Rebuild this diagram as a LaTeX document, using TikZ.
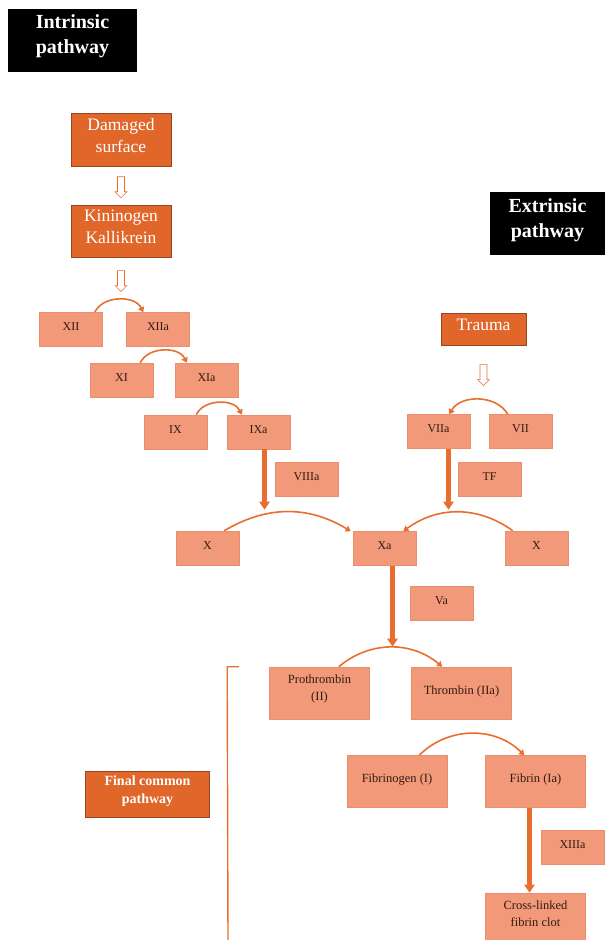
\documentclass[tikz,border=0pt]{standalone}
\usepackage{fontspec}
\setmainfont{Liberation Serif}
\usetikzlibrary{arrows.meta,shapes.arrows,calc}

\definecolor{facfill}{RGB}{241,153,121}
\definecolor{facedge}{RGB}{236,142,110}
\definecolor{darkfill}{RGB}{225,102,42}
\definecolor{darkedge}{RGB}{150,70,35}
\definecolor{arrowc}{RGB}{232,110,48}
\definecolor{factext}{RGB}{50,28,18}

\tikzset{
  fac/.style={draw=facedge, fill=facfill, text=factext, line width=0.6pt,
    font=\fontsize{12}{17}\selectfont, align=center, inner sep=0pt,
    minimum width=63pt, text height=18pt, text depth=16pt},
  bigfac/.style={fac, minimum width=100pt, font=\fontsize{12.5}{17}\selectfont,
    text height=27pt, text depth=25pt},
  twofac/.style={bigfac, text height=33.5pt, text depth=18.5pt},
  dark/.style={draw=darkedge, fill=darkfill, text=white, line width=0.6pt,
    font=\fontsize{17.5}{22}\selectfont, align=center, inner sep=0pt,
    minimum width=100pt, text height=39pt, text depth=14pt},
  title/.style={fill=black, text=white, align=center, inner sep=0pt,
    font=\bfseries\fontsize{20}{25}\selectfont, text height=44pt, text depth=19pt},
  hollow/.style={single arrow, draw=arrowc, fill=white, line width=0.6pt,
    minimum height=21pt, minimum width=0pt, inner sep=3.2pt,
    single arrow head extend=2.5pt, shape border rotate=270},
  flow/.style={draw=arrowc, line width=1.6pt, -{Triangle[length=5pt,width=6.5pt]}},
  thickarr/.style={draw=arrowc, line width=4.5pt, -{Triangle[length=8pt,width=10pt]}},
  bracket/.style={draw=arrowc, line width=1.4pt}
}

\begin{document}
\begin{tikzpicture}[x=1pt, y=1pt]
\useasboundingbox (0,0) rectangle (605,-940);

% Pathway titles
\node[title, minimum width=129pt] (intr) at (72.5,-40.5) {Intrinsic\\pathway};
\node[title, minimum width=116pt, text height=45pt, text depth=18pt] (extr) at (547.5,-223.5) {Extrinsic\\pathway};

% Intrinsic start
\node[dark] (dam) at (121,-139.5) {Damaged\\surface};
\node[dark, text height=38pt] (kin) at (121,-231) {Kininogen\\Kallikrein};
\node[hollow] (h1) at ($(dam.south)!0.5!(kin.north)$) {};
\node[hollow] (h2) at ([yshift=-22pt]kin.south) {};

% Intrinsic cascade
\node[fac] (xii) at (71,-329.5) {XII};
\node[fac] (xiia) at (158,-329.5) {XIIa};
\node[fac] (xi) at (121.5,-380) {XI};
\node[fac] (xia) at (206.5,-380) {XIa};
\node[fac] (ix) at (175.5,-432) {IX};
\node[fac] (ixa) at (258.5,-432) {IXa};
\node[fac] (viiia) at (306.5,-479.5) {VIIIa};

\draw[flow] ([xshift=-8pt]xii.north east) to[bend left=65] ([xshift=17pt]xiia.north west);
\draw[flow] ([xshift=-13pt]xi.north east) to[bend left=65] ([xshift=12pt]xia.north west);
\draw[flow] ([xshift=-11pt]ix.north east) to[bend left=65] ([xshift=15pt]ixa.north west);

% Extrinsic start
\node[dark, minimum width=85pt, text height=17pt, text depth=15pt] (trauma) at (483.5,-329) {Trauma};
\node[hollow] (h3) at ([yshift=-28pt]trauma.south) {};
\node[fac] (viia) at (438.5,-431.5) {VIIa};
\node[fac] (vii) at (520.5,-431.5) {VII};
\node[fac] (tf) at (489.5,-479) {TF};

\draw[flow] ([xshift=19pt]vii.north west) to[bend right=60] ([xshift=-21pt]viia.north east);

% Factor X
\node[fac] (xl) at (207.5,-548) {X};
\node[fac] (xa) at (384.5,-548.5) {Xa};
\node[fac] (xr) at (536.5,-548) {X};

\coordinate (jl) at ([xshift=6pt,yshift=21pt]ixa.south |- xl.north);
\coordinate (jr) at ([xshift=10pt,yshift=21pt]viia.south |- xr.north);
\draw[thickarr] ([xshift=6pt]ixa.south) -- (jl);
\draw[thickarr] ([xshift=10pt]viia.south) -- (jr);
\draw[flow] ([xshift=-15pt]xl.north east) to[bend left=31] ([xshift=-2pt]xa.north west);
\draw[flow] ([xshift=8pt]xr.north west) to[bend right=36] ([xshift=-13pt]xa.north east);

% Final common pathway
\node[fac] (va) at (441.5,-603.5) {Va};
\node[twofac] (pro) at (319.5,-693) {Prothrombin\\(II)};
\node[bigfac] (thr) at (461.5,-693) {Thrombin (IIa)};
\coordinate (jp) at ([xshift=8pt,yshift=20pt]xa.south |- pro.north);
\draw[thickarr] ([xshift=8pt]xa.south) -- (jp);
\draw[flow] ([xshift=-31pt]pro.north east) to[bend left=40] ([xshift=31pt]thr.north west);

\node[bigfac] (fbg) at (397,-781.5) {Fibrinogen (I)};
\node[bigfac] (fib) at (535.5,-781.5) {Fibrin (Ia)};
\draw[flow] ([xshift=-28pt]fbg.north east) to[bend left=45] ([xshift=39pt]fib.north west);

\node[fac] (xiiia) at (572.5,-847.5) {XIIIa};
\node[twofac, text height=33pt, text depth=19pt] (clot) at (535.5,-919) {Cross-linked\\fibrin clot};
\draw[thickarr] ([xshift=-6pt]fib.south) -- ([xshift=-6pt]clot.north);

\node[dark, minimum width=124pt, font=\bfseries\fontsize{14}{18}\selectfont,
  text height=32pt, text depth=14pt] (final) at (147.5,-794) {Final common\\pathway};
\draw[bracket] ([xshift=-30pt]pro.north west) -- ([xshift=-42pt]pro.north west) -- (228,-940);

\end{tikzpicture}
\end{document}
